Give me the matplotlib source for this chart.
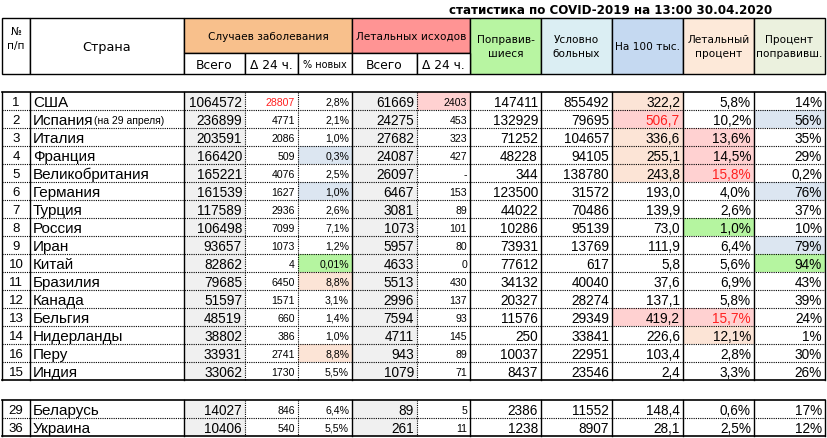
import matplotlib
matplotlib.use("Agg")
import matplotlib.pyplot as plt
from matplotlib.patches import Rectangle

TITLE = "статистика по COVID-2019 на 13:00 30.04.2020"

nums = ["1", "2", "3", "4", "5", "6", "7", "8", "9", "10", "11", "12", "13", "14", "16", "15"]
countries = ["США", "Испания", "Италия", "Франция", "Великобритания", "Германия", "Турция",
             "Россия", "Иран", "Китай", "Бразилия", "Канада", "Бельгия", "Нидерланды", "Перу", "Индия"]
cases = ["1064572", "236899", "203591", "166420", "165221", "161539", "117589", "106498",
         "93657", "82862", "79685", "51597", "48519", "38802", "33931", "33062"]
cases_24 = ["28807", "4771", "2086", "509", "4076", "1627", "2936", "7099",
            "1073", "4", "6450", "1571", "660", "386", "2741", "1730"]
pct_new = ["2,8%", "2,1%", "1,0%", "0,3%", "2,5%", "1,0%", "2,6%", "7,1%",
           "1,2%", "0,01%", "8,8%", "3,1%", "1,4%", "1,0%", "8,8%", "5,5%"]
deaths = ["61669", "24275", "27682", "24087", "26097", "6467", "3081", "1073",
          "5957", "4633", "5513", "2996", "7594", "4711", "943", "1079"]
deaths_24 = ["2403", "453", "323", "427", "-", "153", "89", "101",
             "80", "0", "430", "137", "93", "145", "89", "71"]
recovered = ["147411", "132929", "71252", "48228", "344", "123500", "44022", "10286",
             "73931", "77612", "34132", "20327", "11576", "250", "10037", "8437"]
sick = ["855492", "79695", "104657", "94105", "138780", "31572", "70486", "95139",
        "13769", "617", "40040", "28274", "29349", "33841", "22951", "23546"]
per100k = ["322,2", "506,7", "336,6", "255,1", "243,8", "193,0", "139,9", "73,0",
           "111,9", "5,8", "37,6", "137,1", "419,2", "226,6", "103,4", "2,4"]
lethal = ["5,8%", "10,2%", "13,6%", "14,5%", "15,8%", "4,0%", "2,6%", "1,0%",
          "6,4%", "5,6%", "6,9%", "5,8%", "15,7%", "12,1%", "2,8%", "3,3%"]
rec_pct = ["14%", "56%", "35%", "29%", "0,2%", "76%", "37%", "10%",
           "79%", "94%", "43%", "39%", "24%", "1%", "30%", "26%"]

nums2 = ["29", "36"]
countries2 = ["Беларусь", "Украина"]
cases2 = ["14027", "10406"]
cases_24_2 = ["846", "540"]
pct_new2 = ["6,4%", "5,5%"]
deaths2 = ["89", "261"]
deaths_24_2 = ["5", "11"]
recovered2 = ["2386", "1238"]
sick2 = ["11552", "8907"]
per100k2 = ["148,4", "28,1"]
lethal2 = ["0,6%", "2,5%"]
rec_pct2 = ["17%", "12%"]

# highlight fills: (row, column) -> colour
PINK, PEACH, BLUE, GREEN = "#ffd1d1", "#fce4d6", "#dce6f1", "#b5f5a0"
fills = {(0, 6): PINK, (3, 4): BLUE, (5, 4): BLUE, (9, 4): GREEN, (10, 4): PEACH, (14, 4): PEACH,
         (0, 9): PEACH, (1, 9): PINK, (2, 9): PEACH, (3, 9): PEACH, (4, 9): PEACH, (12, 9): PINK,
         (2, 10): PINK, (3, 10): PINK, (4, 10): PINK, (7, 10): GREEN, (12, 10): PINK, (13, 10): PEACH,
         (1, 11): BLUE, (5, 11): BLUE, (8, 11): BLUE, (9, 11): GREEN}
red_text = {(0, 3), (1, 9), (4, 10), (12, 10)}

# layout in pixels
xs = [2, 30, 184, 245, 298, 352, 417, 470, 541, 612, 683, 754, 825]
RH = 18.0
T1, T2 = 93, 401
solid_cols = {0, 1, 2, 5, 7, 8, 9, 10, 11, 12}

fig = plt.figure(figsize=(8.27, 4.39), dpi=100)
ax = fig.add_axes([0, 0, 1, 1])
ax.set_xlim(0, 827)
ax.set_ylim(439, 0)
ax.axis("off")

NUMFONT = "Liberation Sans"

ax.text(611, 10, TITLE, ha="center", va="center", fontsize=8.6, fontweight="bold",
        family="DejaVu Sans")

# header
H0, H1, H2 = 19, 54, 75
hdr = [(xs[0], xs[1], "#ffffff", "№\nп/п", H0, H2), (xs[1], xs[2], "#ffffff", "Страна", H0, H2),
       (xs[2], xs[5], "#f8c08c", "Случаев заболевания", H0, H1),
       (xs[5], xs[7], "#ff9494", "Летальных исходов", H0, H1),
       (xs[7], xs[8], "#b8f5a2", "Поправив-\nшиеся", H0, H2),
       (xs[8], xs[9], "#dbeef3", "Условно\nбольных", H0, H2),
       (xs[9], xs[10], "#c5d9f1", "На 100 тыс.", H0, H2),
       (xs[10], xs[11], "#fde9d9", "Летальный\nпроцент", H0, H2),
       (xs[11], xs[12], "#ebf1de", "Процент\nпоправивш.", H0, H2)]
for x0, x1, col, txt, y0, y1 in hdr:
    ax.add_patch(Rectangle((x0, y0), x1 - x0, y1 - y0, facecolor=col, edgecolor="black", lw=1))
    fs = 9.2 if txt == "Страна" else 7.6
    ax.text((x0 + x1) / 2, (y0 + y1) / 2 - (8 if txt == "№\nп/п" else 0), txt, ha="center",
            va="center", fontsize=fs, linespacing=1.5)
subs = ["Всего", "Δ 24 ч.", "% новых", "Всего", "Δ 24 ч."]
for i, s in enumerate(subs):
    x0, x1 = xs[2 + i], xs[3 + i]
    ax.add_patch(Rectangle((x0, H1), x1 - x0, H2 - H1, facecolor="white", edgecolor="black", lw=1))
    ax.text((x0 + x1) / 2, (H1 + H2) / 2 + 1, s, ha="center", va="center",
            fontsize=7 if s == "% новых" else 8.8)


def draw_block(top, cols, row_offset, with_note):
    n = len(cols[0])
    for r in range(n):
        y0 = top + r * RH
        yc = y0 + RH / 2 + 1
        for c in range(12):
            x0, x1 = xs[c], xs[c + 1]
            col = fills.get((r + row_offset, c))
            if col is None and c in (2, 5):
                col = "#f0f0f0"
            if col:
                ax.add_patch(Rectangle((x0, y0), x1 - x0, RH, facecolor=col, lw=0))
            val = cols[c][r]
            color = "#ff2020" if (r + row_offset, c) in red_text else "black"
            if c == 0:
                ax.text((x0 + x1) / 2, yc, val, ha="center", va="center", fontsize=9.5,
                        family=NUMFONT)
            elif c == 1:
                ax.text(x0 + 3, yc, val, ha="left", va="center", fontsize=11,
                        family="Liberation Sans")
                if with_note and r == 1:
                    ax.text(x0 + 64, yc, "(на 29 апреля)", ha="left", va="center", fontsize=7.5,
                            family="Liberation Sans")
            else:
                fs = {2: 9.8, 3: 7.6, 4: 7.6, 5: 9.8, 6: 7.6}.get(c, 9.8)
                ax.text(x1 - 3, yc, val, ha="right", va="center", fontsize=fs,
                        family=NUMFONT, color=color)
        if r > 0:
            ax.plot([xs[0], xs[-1]], [y0, y0], color="black", lw=0.8, ls=(0, (1, 1)))
    bottom = top + n * RH
    for i, x in enumerate(xs):
        ls = "-" if i in solid_cols else (0, (1, 1))
        ax.plot([x, x], [top, bottom], color="black", lw=1 if ls == "-" else 0.8, ls=ls)
    ax.plot([xs[0], xs[-1]], [top, top], color="black", lw=1.2)
    ax.plot([xs[0], xs[-1]], [bottom, bottom], color="black", lw=1.2)


draw_block(T1, [nums, countries, cases, cases_24, pct_new, deaths, deaths_24, recovered, sick,
                per100k, lethal, rec_pct], 0, True)
draw_block(T2, [nums2, countries2, cases2, cases_24_2, pct_new2, deaths2, deaths_24_2, recovered2,
                sick2, per100k2, lethal2, rec_pct2], 100, False)

fig.savefig("out.png", dpi=100)
